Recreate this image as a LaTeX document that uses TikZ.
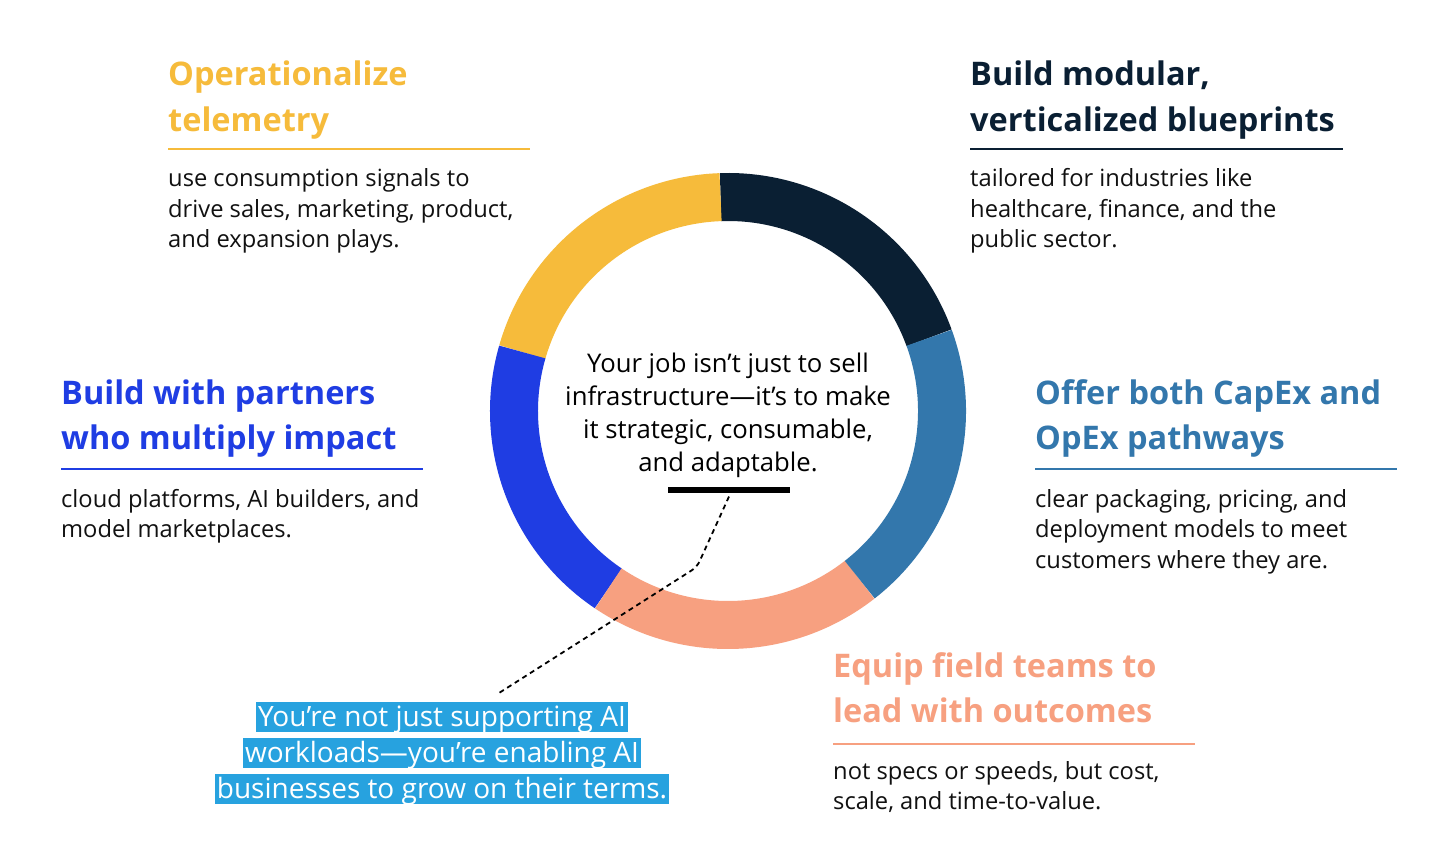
\documentclass[tikz,border=0pt]{standalone}
\usepackage{fontspec}
\setmainfont{Open Sans}
\definecolor{cyellow}{HTML}{F6BB3B}
\definecolor{cnavy}{HTML}{0A1F33}
\definecolor{csteel}{HTML}{3377AC}
\definecolor{csalmon}{HTML}{F7A080}
\definecolor{cblue}{HTML}{1F3DE3}
\definecolor{hlblue}{HTML}{27A2DF}
\definecolor{txt}{HTML}{111111}
\begin{document}
\begin{tikzpicture}[x=1pt,y=-1pt,
  head/.style={anchor=base west, inner sep=0pt, align=left, font=\bfseries\fontsize{32.5}{45.5}\selectfont},
  body/.style={anchor=base west, inner sep=0pt, align=left, text=txt, font=\fontsize{23.7}{30.5}\selectfont},
  rulel/.style={line width=2pt},
  seg/.style={line width=48pt},
  hl/.style={fill=hlblue, text=white, anchor=base, inner xsep=2pt, inner ysep=2pt, text height=22pt, text depth=4pt, font=\fontsize{28}{36}\selectfont},
  leader/.style={dash pattern=on 5pt off 4pt, line width=1.8pt, rounded corners=6pt}
]
\fill[white] (0,0) rectangle (1456,866);
\useasboundingbox (0,0) rectangle (1456,866);

% ring
\coordinate (c) at (728,411);
\draw[seg, cnavy]   (c) ++(-20:214)  arc[start angle=-20,  end angle=-92,  radius=214];
\draw[seg, cyellow] (c) ++(-92:214)  arc[start angle=-92,  end angle=-164, radius=214];
\draw[seg, cblue]   (c) ++(-164:214) arc[start angle=-164, end angle=-236, radius=214];
\draw[seg, csalmon] (c) ++(-236:214) arc[start angle=-236, end angle=-308, radius=214];
\draw[seg, csteel]  (c) ++(-308:214) arc[start angle=-308, end angle=-380, radius=214];

% center text (anchor = baseline of last line)
\node[anchor=base, align=center, inner sep=0pt, font=\fontsize{25.7}{33}\selectfont] (center) at (728,471)
  {Your job isn’t just to sell\\infrastructure—it’s to make\\it strategic, consumable,\\and adaptable.};
\node[fill=black, inner sep=0pt, minimum width=122pt, minimum height=6.7pt] (bar) at (729,490) {};

% blocks (anchors = baseline of last line)
\node[head, text=cyellow] (h1) at (168,131.5) {Operationalize\\telemetry};
\draw[rulel, cyellow] (168,149) -- (530,149);
\node[body] (b1) at (168,248) {use consumption signals to\\drive sales, marketing, product,\\and expansion plays.};

\node[head, text=cnavy] (h2) at (970,131.5) {Build modular,\\verticalized blueprints};
\draw[rulel, cnavy] (970,149) -- (1343,149);
\node[body] (b2) at (970,248) {tailored for industries like\\healthcare, finance, and the\\public sector.};

\node[head, text=cblue] (h3) at (61,449.5) {Build with partners\\who multiply impact};
\draw[rulel, cblue] (61,469) -- (423,469);
\node[body] (b3) at (61,537.5) {cloud platforms, AI builders, and\\model marketplaces.};

\node[head, text=csteel] (h4) at (1035,449.5) {Offer both CapEx and\\OpEx pathways};
\draw[rulel, csteel] (1035,469) -- (1397,469);
\node[body] (b4) at (1035,568) {clear packaging, pricing, and\\deployment models to meet\\customers where they are.};

\node[head, text=csalmon] (h5) at (833,722.5) {Equip field teams to\\lead with outcomes};
\draw[rulel, csalmon] (833,744) -- (1195,744);
\node[body] (b5) at (833,809.5) {not specs or speeds, but cost,\\scale, and time-to-value.};

% callout
\node[hl] (q1) at (442,726) {You’re not just supporting AI};
\node[hl] (q2) at (442,762) {workloads—you’re enabling AI};
\node[hl] (q3) at (442,798) {businesses to grow on their terms.};

\coordinate (kink) at (697,567);
\coordinate (qend) at (499,693);
\draw[leader] ([yshift=-3pt]bar.south) -- (kink) -- (qend);
\end{tikzpicture}
\end{document}
